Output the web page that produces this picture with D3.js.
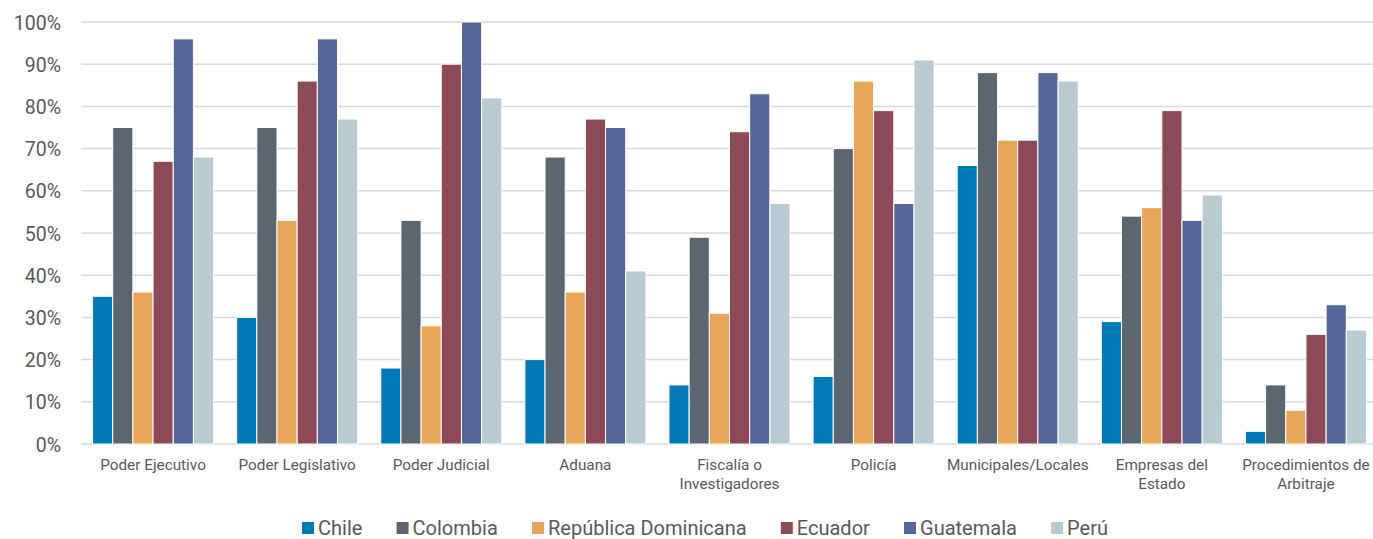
<!DOCTYPE html>
<html><head><meta charset="utf-8">
<script src="https://cdn.jsdelivr.net/npm/d3@7"></script>
<style>body{margin:0;background:#fff;} svg{display:block;}</style>
</head><body>
<svg id="chart" width="1373" height="539"></svg>
<script>
const categories = ["Poder Ejecutivo","Poder Legislativo","Poder Judicial","Aduana","Fiscalía o\nInvestigadores","Policía","Municipales/Locales","Empresas del\nEstado","Procedimientos de\nArbitraje"];
const seriesNames = ["Chile","Colombia","República Dominicana","Ecuador","Guatemala","Perú"];
const chile     = [35,30,18,20,14,16,66,29,3];
const colombia  = [75,75,53,68,49,70,88,54,14];
const repDom    = [36,53,28,36,31,86,72,56,8];
const ecuador   = [67,86,90,77,74,79,72,79,26];
const guatemala = [96,96,100,75,83,57,88,53,33];
const peru      = [68,77,82,41,57,91,86,59,27];
const yTicks = [0,10,20,30,40,50,60,70,80,90,100];
const colors = ["#0079B8","#5B6670","#E8A65A","#8C4A56","#556699","#B8CBD1"];

const series = [chile,colombia,repDom,ecuador,guatemala,peru];
const svg = d3.select("#chart");
const font = "Roboto, 'Noto Sans', sans-serif";
const x0 = d3.scaleBand().domain(categories).range([81,1378]).paddingInner(0.16).paddingOuter(0.08);
const x1 = d3.scaleBand().domain(seriesNames).range([0,x0.bandwidth()]);
const y = d3.scaleLinear().domain([0,100]).range([444,22]);

// gridlines
svg.append("g").selectAll("line").data(yTicks).join("line")
  .attr("x1",81).attr("x2",1373).attr("y1",d=>y(d)).attr("y2",d=>y(d))
  .attr("stroke","#d9d9d9").attr("stroke-width",1.5);

// y axis labels
const yAxis = d3.axisLeft(y).tickValues(yTicks).tickFormat(d=>d+"%").tickSize(0).tickPadding(0);
const ya = svg.append("g").attr("transform","translate(61,0)").call(yAxis);
ya.select(".domain").remove();
ya.selectAll("text").attr("font-family",font).attr("font-size",19.5).attr("fill","#595959").attr("dy","0.36em");

// bars
const groups = svg.append("g").selectAll("g").data(categories).join("g")
  .attr("transform",d=>`translate(${x0(d)},0)`);
groups.selectAll("rect").data((c,i)=>seriesNames.map((s,j)=>({s,j,v:series[j][i]}))).join("rect")
  .attr("x",d=>x1(d.s)).attr("width",x1.bandwidth())
  .attr("y",d=>y(d.v)).attr("height",d=>y(0)-y(d.v))
  .attr("fill",d=>colors[d.j]).attr("stroke","#fff").attr("stroke-width",1);

// x labels
const xa = svg.append("g");
categories.forEach(c=>{
  const cxp = x0(c)+x0.bandwidth()/2;
  const t = xa.append("text").attr("x",cxp).attr("y",470)
    .attr("text-anchor","middle").attr("font-family",font).attr("font-size",15.3).attr("fill","#595959");
  c.split("\n").forEach((ln,k)=>t.append("tspan").attr("x",cxp).attr("dy",k?19:0).text(ln));
});

// legend
const lg = svg.append("g");
let items = seriesNames.map((s,j)=>{
  const g = lg.append("g");
  g.append("rect").attr("width",12).attr("height",12).attr("y",-13).attr("fill",colors[j]);
  const t = g.append("text").attr("x",16).attr("font-family",font).attr("font-size",20).attr("fill","#595959").text(s);
  return {g,w:16+t.node().getComputedTextLength()};
});
const left = 302, right = 1108;
const gap = (right-left-d3.sum(items,d=>d.w))/(items.length-1);
let cx = left;
items.forEach(it=>{it.g.attr("transform",`translate(${cx},535)`); cx+=it.w+gap;});
</script>
</body></html>
